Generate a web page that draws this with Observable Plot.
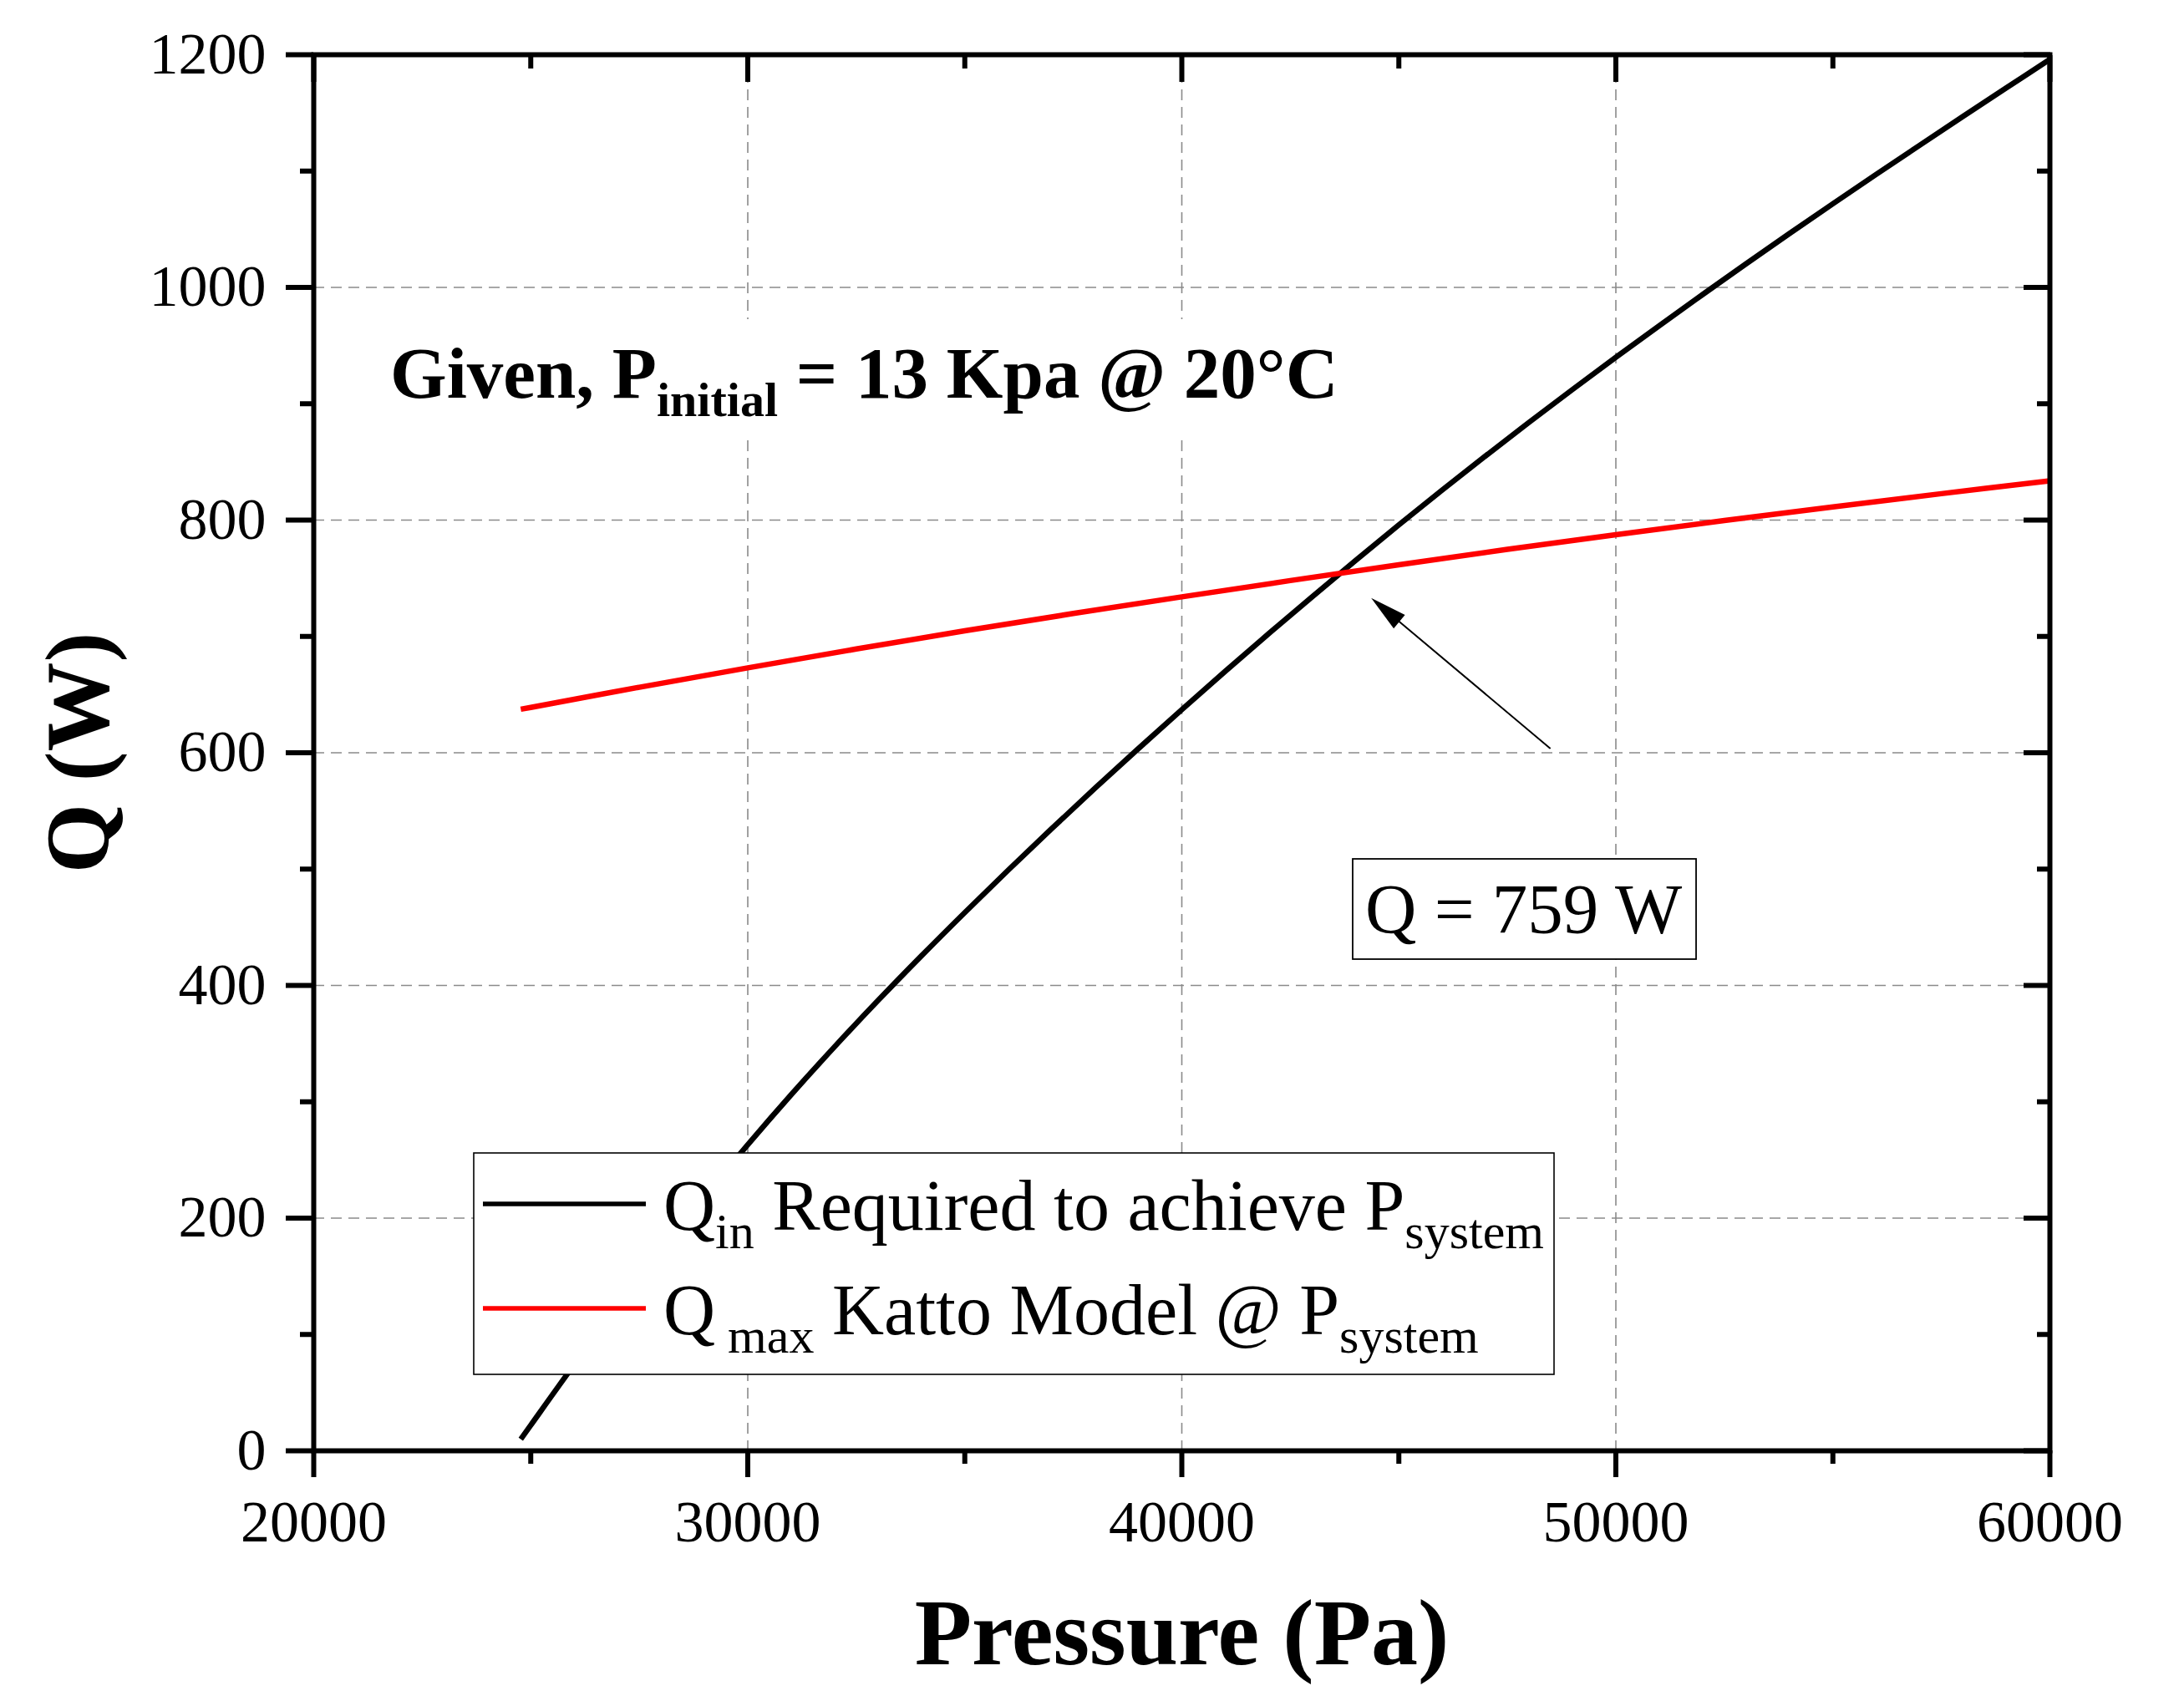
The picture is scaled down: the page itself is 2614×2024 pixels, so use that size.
<!DOCTYPE html>
<html>
<head>
<meta charset="utf-8">
<script src="https://cdn.jsdelivr.net/npm/d3@7"></script>
<script src="https://cdn.jsdelivr.net/npm/@observablehq/plot@0.6"></script>
<style>
  html, body { margin: 0; padding: 0; background: #ffffff; }
  #chart svg { display: block; }
</style>
</head>
<body>
<div id="chart"></div>
<script>
// ---------------- DATA ----------------
const pressureQin = [24770, 25000, 26000, 27000, 28000, 29000, 30000, 31000, 32000, 33000, 34000, 35000, 36000, 37000, 38000, 39000, 40000, 41000, 42000, 43000, 44000, 45000, 46000, 47000, 48000, 49000, 50000, 51000, 52000, 53000, 54000, 55000, 56000, 57000, 58000, 59000, 60000];
const qInRequired = [10, 22, 74, 124, 172, 218.3, 263.1, 306.1, 347.3, 387, 425.4, 462.7, 499.1, 534.7, 569.5, 603.6, 637.1, 670, 702.3, 734, 765.2, 795.8, 825.8, 855.2, 884, 912.2, 939.9, 967.1, 993.9, 1020.3, 1046.3, 1071.9, 1097.2, 1122.2, 1147, 1171.6, 1196];

const pressureQmax = [24770, 25000, 27500, 30000, 32500, 35000, 37500, 40000, 42500, 45000, 47500, 50000, 52500, 55000, 57500, 60000];
const qMaxKatto = [637.4, 639, 656.3, 673, 689.2, 704.8, 719.7, 734, 748, 761.6, 774.8, 787.5, 799.6, 811.3, 822.7, 833.8];

const xMajorTicks = [20000, 30000, 40000, 50000, 60000];
const xMinorTicks = [25000, 35000, 45000, 55000];
const xGridTicks = [30000, 40000, 50000];
const yMajorTicks = [0, 200, 400, 600, 800, 1000, 1200];
const yMinorTicks = [100, 300, 500, 700, 900, 1100];
const yGridTicks = [200, 400, 600, 800, 1000];

const xDomain = [20000, 60000];
const yDomain = [0, 1200];
const xTitle = "Pressure (Pa)";
const yTitle = "Q (W)";

// annotation: arrow from label towards the intersection point (data units)
const arrowTail = [48480, 604];
const arrowTip = [44363, 733];
const resultLabel = "Q = 759 W";
const givenParts = [["Given, P", 0], ["initial", 1], [" = 13 Kpa @ 20°C", 0]];
const legendEntries = [
  {color: "#000000", parts: [["Q", 0], ["in", 1], [" Required to achieve P", 0], ["system", 1]]},
  {color: "#ff0000", parts: [["Q", 0], [" max", 1], [" Katto Model @ P", 0], ["system", 1]]}
];

// ---------------- LAYOUT / STYLE ----------------
const W = 2614, H = 2024;
const M = {left: 375, right: 161, top: 65, bottom: 288};
const FONT = '"Liberation Serif", "Times New Roman", Times, serif';
const AXW = 6;      // axis / tick stroke width
const CURVEW = 6.5; // data curve stroke width
const gridStyle = {stroke: "#8a8a8a", strokeOpacity: 1, strokeWidth: 1.6, strokeDasharray: "13,8"};

const qinRows = pressureQin.map((p, i) => ({pressure: p, q: qInRequired[i]}));
const qmaxRows = pressureQmax.map((p, i) => ({pressure: p, q: qMaxKatto[i]}));

// standalone scales for computing the arrow head orientation
const xs = Plot.scale({x: {domain: xDomain, range: [M.left, W - M.right]}});
const ys = Plot.scale({y: {domain: yDomain, range: [H - M.bottom, M.top]}});
const adx = xs.apply(arrowTip[0]) - xs.apply(arrowTail[0]);
const ady = ys.apply(arrowTip[1]) - ys.apply(arrowTail[1]);
const headAngle = Math.atan2(adx, -ady) * 180 / Math.PI;
const headSymbol = {
  draw(ctx) { ctx.moveTo(0, 0); ctx.lineTo(-10.5, 44); ctx.lineTo(10.5, 44); ctx.closePath(); }
};

const noText = () => "";

const plot = Plot.plot({
  width: W,
  height: H,
  marginLeft: M.left,
  marginRight: M.right,
  marginTop: M.top,
  marginBottom: M.bottom,
  style: {fontFamily: FONT, background: "#ffffff", color: "#000000"},
  x: {domain: xDomain},
  y: {domain: yDomain},
  marks: [
    Plot.gridX(xGridTicks, gridStyle),
    Plot.gridY(yGridTicks, gridStyle),
    Plot.line(qinRows, {x: "pressure", y: "q", stroke: "#000000", strokeWidth: CURVEW, curve: "catmull-rom", strokeLinecap: "butt"}),
    Plot.line(qmaxRows, {x: "pressure", y: "q", stroke: "#ff0000", strokeWidth: CURVEW, curve: "catmull-rom", strokeLinecap: "butt"}),
    Plot.arrow([{x1: arrowTail[0], y1: arrowTail[1], x2: arrowTip[0], y2: arrowTip[1]}],
      {x1: "x1", y1: "y1", x2: "x2", y2: "y2", stroke: "#000000", strokeWidth: 2, headLength: 0, insetEnd: 38}),
    Plot.dot([{x: arrowTip[0], y: arrowTip[1]}], {x: "x", y: "y", symbol: headSymbol, r: 1, fill: "#000000", stroke: "none", rotate: headAngle}),
    Plot.frame({stroke: "#000000", strokeWidth: AXW}),
    // bottom axis (outward)
    Plot.axisX(xMajorTicks, {anchor: "bottom", tickSize: 32, tickPadding: 27, strokeWidth: AXW, fontSize: 70, tickFormat: d => String(d), label: null}),
    Plot.axisX(xMinorTicks, {anchor: "bottom", tickSize: 16, strokeWidth: AXW, tickFormat: noText, label: null}),
    // top axis (inward)
    Plot.axisX(xMajorTicks, {anchor: "top", tickSize: 32, dy: 32, strokeWidth: AXW, tickFormat: noText, label: null}),
    Plot.axisX(xMinorTicks, {anchor: "top", tickSize: 16, dy: 16, strokeWidth: AXW, tickFormat: noText, label: null}),
    // left axis (outward)
    Plot.axisY(yMajorTicks, {anchor: "left", tickSize: 33, tickPadding: 24, strokeWidth: AXW, fontSize: 70, tickFormat: d => String(d), label: null}),
    Plot.axisY(yMinorTicks, {anchor: "left", tickSize: 16, strokeWidth: AXW, tickFormat: noText, label: null}),
    // right axis (inward)
    Plot.axisY(yMajorTicks, {anchor: "right", tickSize: 32, dx: -32, strokeWidth: AXW, tickFormat: noText, label: null}),
    Plot.axisY(yMinorTicks, {anchor: "right", tickSize: 16, dx: -16, strokeWidth: AXW, tickFormat: noText, label: null}),
    // axis titles
    Plot.text([xTitle], {text: d => d, frameAnchor: "bottom", dy: 220, fontSize: 112, fontWeight: "bold", lineAnchor: "middle", fill: "#000000"}),
    Plot.text([yTitle], {text: d => d, frameAnchor: "left", dx: -281, rotate: -90, fontSize: 107, fontWeight: "bold", lineAnchor: "middle", textAnchor: "middle", fill: "#000000"})
  ]
});

document.getElementById("chart").appendChild(plot);

// ---------------- rich-text annotations (subscripts) ----------------
const svg = d3.select(plot);
const overlay = svg.append("g")
  .attr("font-family", FONT)
  .attr("fill", "#000000")
  .attr("text-anchor", "start");

function richText(g, x, y, parts, {size, subSize, subShift, weight = "normal"}) {
  const t = g.append("text")
    .attr("x", x).attr("y", y)
    .attr("text-anchor", "start")
    .attr("font-weight", weight)
    .attr("font-size", size)
    .style("white-space", "pre");
  let shifted = false;
  for (const [s, sub] of parts) {
    const ts = t.append("tspan").text(s).attr("font-size", sub ? subSize : size);
    if (!!sub !== shifted) {
      ts.attr("dy", sub ? subShift : -subShift);
      shifted = !!sub;
    }
  }
  return t;
}

// "Given" note with white background (hides gridlines behind it)
const givenBg = overlay.append("rect").attr("fill", "#ffffff");
const given = richText(overlay, 467, 476, givenParts, {size: 87, subSize: 58, subShift: 22, weight: "bold"});
{
  const b = given.node().getBBox();
  givenBg.attr("x", b.x - 8).attr("y", b.y - 16).attr("width", b.width + 16).attr("height", b.height + 28);
}

// result label box
const resBox = overlay.append("rect").attr("fill", "#ffffff").attr("stroke", "#000000").attr("stroke-width", 1.8);
const res = overlay.append("text").attr("x", 1634).attr("y", 1117).attr("text-anchor", "start")
  .attr("font-size", 85).style("white-space", "pre").text(resultLabel);
{
  const b = res.node().getBBox();
  resBox.attr("x", b.x - 15).attr("y", b.y - 13).attr("width", b.width + 31).attr("height", b.height + 26);
}

// legend
const LG = {x: 567, y: 1380, w: 1293, h: 265, swX1: 578, swX2: 773, textX: 794, base0: 1472, step: 125, swOffset: -31};
overlay.append("rect").attr("x", LG.x).attr("y", LG.y).attr("width", LG.w).attr("height", LG.h)
  .attr("fill", "#ffffff").attr("stroke", "#000000").attr("stroke-width", 1.6);
legendEntries.forEach((e, i) => {
  const base = LG.base0 + i * LG.step;
  overlay.append("line").attr("x1", LG.swX1).attr("x2", LG.swX2)
    .attr("y1", base + LG.swOffset).attr("y2", base + LG.swOffset)
    .attr("stroke", e.color).attr("stroke-width", 5.5);
  richText(overlay, LG.textX, base, e.parts, {size: 86, subSize: 60, subShift: 22});
});
</script>
</body>
</html>
